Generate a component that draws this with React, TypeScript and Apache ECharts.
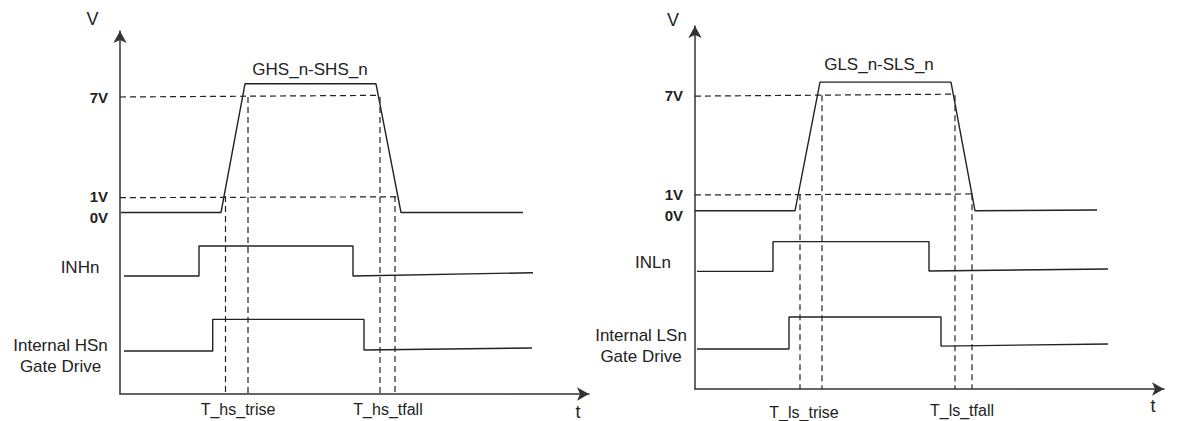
import React, { useEffect, useRef } from "react";
import * as echarts from "echarts";

// ---- Data (time units along each panel's t axis, volts / logic levels on V axis) ----
const voltTicks = [0, 1, 7];

// Left panel (high side)
const ghsWave: [number, number][] = [[1, 0], [101, 0], [125, 7.8], [256, 7.8], [281, 0], [403, 0]];
const inhWave: [number, number][] = [[4, -3.85], [79, -3.85], [79, -2.03], [233, -2.03], [233, -3.85], [413, -3.65]];
const hsDriveWave: [number, number][] = [[4, -8.39], [92.7, -8.39], [92.7, -6.48], [244, -6.48], [244, -8.33], [412, -8.21]];
const hs7V: [number, number][] = [[0, 7], [258, 7.1]];
const hs1V: [number, number][] = [[0, 0.9], [277, 0.95]];
const hsMarkers: [number, number][][] = [
  [[105.5, 1], [105.5, -11]],
  [[128, 7], [128, -11]],
  [[260, 7], [260, -11]],
  [[275, 1], [275, -11]],
];

// Right panel (low side)
const glsWave: [number, number][] = [[0, 0], [100, 0], [125, 7.8], [256, 7.8], [280, 0], [402, 0.05]];
const inlWave: [number, number][] = [[2, -3.67], [78, -3.67], [78, -1.87], [234, -1.87], [234, -3.65], [413, -3.53]];
const lsDriveWave: [number, number][] = [[2, -8.38], [94, -8.38], [94, -6.44], [246, -6.44], [246, -8.2], [413, -8.07]];
const ls7V: [number, number][] = [[0, 6.95], [257, 7.07]];
const ls1V: [number, number][] = [[0, 0.96], [277, 1.02]];
const lsMarkers: [number, number][][] = [
  [[105, 1], [105, -10.8]],
  [[127, 7], [127, -10.8]],
  [[260, 7], [260, -10.8]],
  [[277, 1], [277, -10.8]],
];

const FONT = '"Liberation Sans", Arial, sans-serif';
const INK = "#222";

export default function App() {
  const ref = useRef<HTMLDivElement>(null);

  useEffect(() => {
    if (!ref.current) return;
    const chart = echarts.init(ref.current, undefined, { renderer: "svg" });

    const solid = (data: [number, number][], gi: number) => ({
      type: "line",
      xAxisIndex: gi,
      yAxisIndex: gi,
      data,
      showSymbol: false,
      symbol: "none",
      silent: true,
      lineStyle: { color: INK, width: 1.4 },
      z: 3,
    });
    const dashed = (data: [number, number][], gi: number) => ({
      type: "line",
      xAxisIndex: gi,
      yAxisIndex: gi,
      data,
      showSymbol: false,
      symbol: "none",
      silent: true,
      lineStyle: { color: INK, width: 1.2, type: [6, 4] },
      z: 2,
    });

    const xAx = (gi: number) => ({
      type: "value",
      gridIndex: gi,
      min: 0,
      max: 469,
      axisLine: {
        show: true,
        onZero: false,
        symbol: ["none", "arrow"],
        symbolSize: [10, 12],
        lineStyle: { color: "#333", width: 1.5 },
      },
      axisTick: { show: false },
      axisLabel: { show: false },
      splitLine: { show: false },
    });
    const yAx = (gi: number, min: number, max: number) => ({
      type: "value",
      gridIndex: gi,
      min,
      max,
      axisLine: {
        show: true,
        onZero: false,
        symbol: ["none", "arrow"],
        symbolSize: [10, 12],
        lineStyle: { color: "#333", width: 1.5 },
      },
      axisTick: { show: false },
      splitLine: { show: false },
      axisLabel: {
        customValues: voltTicks,
        margin: 12,
        color: INK,
        fontFamily: FONT,
        fontSize: 15,
        fontWeight: "bold",
        formatter: (v: number) => (v === 0 ? "{z|0V}" : `${v}V`),
        rich: {
          z: { padding: [9, 0, 0, 0], fontSize: 15, fontWeight: "bold", fontFamily: FONT, color: INK },
        },
      },
    });

    const txt = (x: number, y: number, text: string, size: number, extra: any = {}) => ({
      type: "text",
      x,
      y,
      silent: true,
      style: {
        text,
        fill: INK,
        fontSize: size,
        fontFamily: FONT,
        align: "center",
        verticalAlign: "middle",
        ...extra,
      },
    });

    chart.setOption({
      animation: false,
      backgroundColor: "#fff",
      grid: [
        { left: 120, top: 31, width: 469, height: 363 },
        { left: 695, top: 26, width: 469, height: 363 },
      ],
      xAxis: [xAx(0), xAx(1)],
      yAxis: [yAx(0, -11, 11), yAx(1, -10.8, 11.2)],
      series: [
        solid(ghsWave, 0),
        solid(inhWave, 0),
        solid(hsDriveWave, 0),
        dashed(hs7V, 0),
        dashed(hs1V, 0),
        ...hsMarkers.map((m) => dashed(m, 0)),
        solid(glsWave, 1),
        solid(inlWave, 1),
        solid(lsDriveWave, 1),
        dashed(ls7V, 1),
        dashed(ls1V, 1),
        ...lsMarkers.map((m) => dashed(m, 1)),
      ],
      graphic: [
        txt(92.5, 18.5, "V", 18),
        txt(310, 69, "GHS_n-SHS_n", 17),
        txt(80, 267, "INHn", 17),
        txt(60.5, 355.5, "Internal HSn\nGate Drive", 17, { lineHeight: 21 }),
        txt(238, 409, "T_hs_trise", 16),
        txt(388, 409, "T_hs_tfall", 16),
        txt(578, 412, "t", 18),
        txt(673, 19.5, "V", 18),
        txt(879, 64, "GLS_n-SLS_n", 17),
        txt(653, 262, "INLn", 17),
        txt(641, 345.5, "Internal LSn\nGate Drive", 17, { lineHeight: 21 }),
        txt(804, 412, "T_ls_trise", 16),
        txt(962, 410, "T_ls_tfall", 16),
        txt(1153, 406, "t", 18),
      ],
    });

    return () => chart.dispose();
  }, []);

  return (
    <div
      ref={ref}
      style={{ position: "fixed", left: 0, top: 0, width: 1178, height: 421, background: "#fff" }}
    />
  );
}
